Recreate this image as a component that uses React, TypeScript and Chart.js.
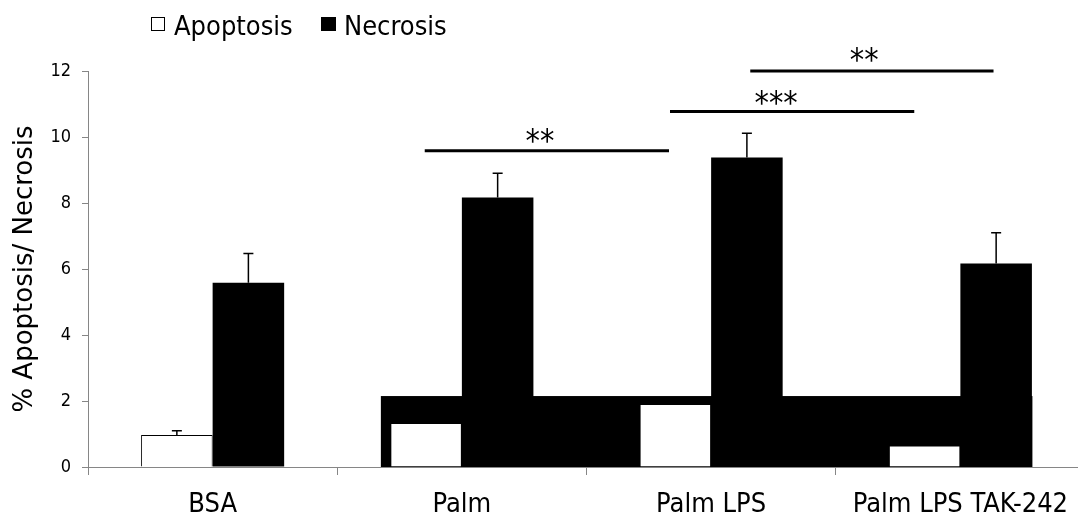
import { useEffect, useRef } from 'react';
import { Chart, registerables } from 'chart.js';

Chart.register(...registerables);

// ---------- data ----------
const categories = ['BSA', 'Palm', 'Palm LPS', 'Palm LPS TAK-242'];
const apoptosis = [0.97, 1.33, 1.91, 0.65];
const apoptosisErr: (number | null)[] = [0.13, null, null, null];
const necrosis = [5.58, 8.17, 9.38, 6.17];
const necrosisErr: (number | null)[] = [0.89, 0.73, 0.73, 0.93];

const yMin = 0;
const yMax = 12;
const yStep = 2;

// significance brackets (x in category units, y in data units)
const sigFrom = [0.851, 1.835, 2.157];
const sigTo = [1.831, 2.815, 3.133];
const sigY = [9.58, 10.77, 12.0];
const sigLabels = ['**', '***', '**'];
const sigLabelX = [1.313, 2.261, 2.614];
const sigLabelY = [10.01, 11.17, 12.48];

// black background block drawn behind the bars (as in the source figure)
const blockFrom = [0.675];
const blockTo = [3.289];
const blockHeight = [2.15];

const legendLabels = ['Apoptosis', 'Necrosis'];

const FONT = "'DejaVu Sans Condensed', 'DejaVu Sans', sans-serif";
const AXIS_GRAY = '#868686';

const overlayPlugin = {
  id: 'overlay',
  beforeDatasetsDraw(chart: any) {
    const { ctx, scales } = chart;
    const x = scales.x;
    const y = scales.y;
    ctx.save();
    ctx.fillStyle = '#000';
    for (let i = 0; i < blockFrom.length; i++) {
      const x0 = x.getPixelForValue(blockFrom[i]);
      const x1 = x.getPixelForValue(blockTo[i]);
      const y0 = y.getPixelForValue(blockHeight[i]);
      const yb = y.getPixelForValue(0);
      ctx.fillRect(x0, y0, x1 - x0, yb - y0);
    }
    ctx.restore();
  },
  afterDatasetsDraw(chart: any) {
    const { ctx, scales } = chart;
    const x = scales.x;
    const y = scales.y;
    ctx.save();
    // error bars
    ctx.strokeStyle = '#000';
    ctx.lineWidth = 1.5;
    const sets = [
      { vals: apoptosis, errs: apoptosisErr },
      { vals: necrosis, errs: necrosisErr },
    ];
    sets.forEach((s, di) => {
      const meta = chart.getDatasetMeta(di);
      meta.data.forEach((bar: any, i: number) => {
        const e = s.errs[i];
        if (e == null) return;
        const xc = bar.x;
        const yTop = y.getPixelForValue(s.vals[i]);
        const yE = y.getPixelForValue(s.vals[i] + e);
        ctx.beginPath();
        ctx.moveTo(xc, yTop);
        ctx.lineTo(xc, yE);
        ctx.moveTo(xc - 5, yE);
        ctx.lineTo(xc + 5, yE);
        ctx.stroke();
      });
    });
    // significance lines
    ctx.lineWidth = 3;
    for (let i = 0; i < sigFrom.length; i++) {
      const py = y.getPixelForValue(sigY[i]);
      ctx.beginPath();
      ctx.moveTo(x.getPixelForValue(sigFrom[i]), py);
      ctx.lineTo(x.getPixelForValue(sigTo[i]), py);
      ctx.stroke();
    }
    const starSize = 32;
    ctx.fillStyle = '#000';
    ctx.font = `${starSize}px ${FONT}`;
    ctx.textAlign = 'center';
    ctx.textBaseline = 'alphabetic';
    for (let i = 0; i < sigLabels.length; i++) {
      const cx = x.getPixelForValue(sigLabelX[i]);
      const cy = y.getPixelForValue(sigLabelY[i]);
      ctx.fillText(sigLabels[i], cx, cy + starSize * 0.45);
    }
    ctx.restore();
  },
  afterDraw(chart: any) {
    const { ctx } = chart;
    ctx.save();
    ctx.font = `27px ${FONT}`;
    ctx.textBaseline = 'alphabetic';
    ctx.textAlign = 'left';
    // item 1: white box
    ctx.fillStyle = '#fff';
    ctx.strokeStyle = '#000';
    ctx.lineWidth = 1;
    ctx.fillRect(151.5, 17.5, 13, 13);
    ctx.strokeRect(151.5, 17.5, 13, 13);
    ctx.fillStyle = '#000';
    ctx.fillText(legendLabels[0], 174, 35);
    // item 2: black box
    ctx.fillRect(321, 17, 15, 14);
    ctx.fillText(legendLabels[1], 344, 35);
    ctx.restore();
  },
};

export default function App() {
  const ref = useRef<HTMLCanvasElement>(null);
  useEffect(() => {
    document.documentElement.style.overflow = 'hidden';
    document.body.style.margin = '0';
    document.body.style.overflow = 'hidden';
    const chart = new Chart(ref.current!, {
      type: 'bar',
      data: {
        labels: categories,
        datasets: [
          {
            label: legendLabels[0],
            data: apoptosis,
            backgroundColor: '#ffffff',
            borderColor: '#000000',
            borderWidth: 1,
            categoryPercentage: 0.574,
            barPercentage: 1,
          },
          {
            label: legendLabels[1],
            data: necrosis,
            backgroundColor: '#000000',
            borderColor: '#000000',
            borderWidth: 0,
            categoryPercentage: 0.574,
            barPercentage: 1,
          },
        ],
      },
      options: {
        responsive: false,
        animation: false,
        devicePixelRatio: 1,
        layout: { padding: { top: 71, left: 0, right: 0, bottom: 0 } },
        plugins: {
          legend: { display: false },
          tooltip: { enabled: false },
          title: { display: false },
        },
        scales: {
          x: {
            type: 'category',
            offset: true,
            grid: {
              display: true,
              drawOnChartArea: false,
              drawTicks: true,
              tickLength: 8,
              color: AXIS_GRAY,
              offset: true,
            },
            border: { color: AXIS_GRAY, width: 1 },
            ticks: {
              color: '#000',
              font: { family: FONT, size: 27 },
              padding: 14,
              maxRotation: 0,
              autoSkip: false,
            },
            afterFit: (s: any) => {
              s.height = 48;
            },
          },
          y: {
            min: yMin,
            max: yMax,
            ticks: {
              stepSize: yStep,
              color: '#000',
              font: { family: FONT, size: 18 },
              padding: 11,
            },
            grid: {
              drawOnChartArea: false,
              drawTicks: true,
              tickLength: 6,
              color: AXIS_GRAY,
            },
            border: { color: AXIS_GRAY, width: 1 },
            title: {
              display: true,
              text: '% Apoptosis/ Necrosis',
              color: '#000',
              font: { family: "'DejaVu Sans', sans-serif", size: 26 },
              padding: { top: 10, bottom: 0 },
            },
            afterFit: (s: any) => {
              s.width = 88;
            },
          },
        },
      },
      plugins: [overlayPlugin],
    });
    return () => chart.destroy();
  }, []);
  return (
    <div style={{ width: 1085, height: 515 }}>
      <canvas ref={ref} width={1085} height={515} style={{ display: 'block' }} />
    </div>
  );
}
